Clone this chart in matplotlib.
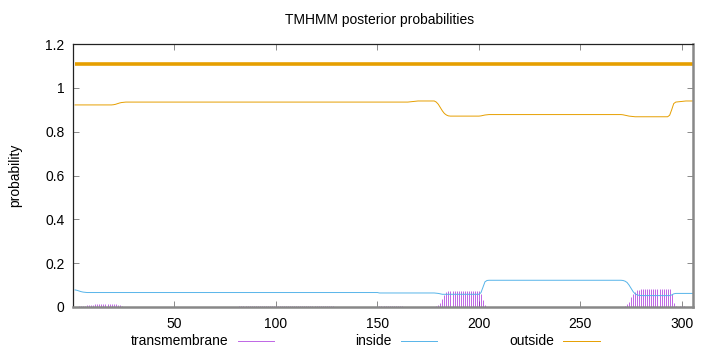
import numpy as np
import matplotlib
matplotlib.use("Agg")
import matplotlib.pyplot as plt
from matplotlib.lines import Line2D
from matplotlib.ticker import FuncFormatter

plt.rcParams['font.family'] = ['Liberation Sans', 'DejaVu Sans']

# posterior probabilities per residue (1..306)
outside = ([0.922] * 19
           + [0.923, 0.925, 0.928, 0.931, 0.933, 0.934, 0.935]
           + [0.935] * 139
           + [0.936, 0.937, 0.938, 0.939, 0.94]
           + [0.94] * 8
           + [0.935, 0.925, 0.91, 0.895, 0.883, 0.876, 0.872, 0.871]
           + [0.871] * 14
           + [0.872, 0.874, 0.876, 0.877, 0.878, 0.878, 0.878]
           + [0.878] * 63
           + [0.877, 0.875, 0.873, 0.871, 0.87, 0.869, 0.868, 0.868]
           + [0.868] * 15
           + [0.875, 0.9, 0.928, 0.935, 0.936]
           + [0.937, 0.938, 0.939, 0.94, 0.94, 0.94, 0.94, 0.94])

inside = ([0.078, 0.076, 0.073, 0.07, 0.068, 0.067]
          + [0.066] * 144
          + [0.064] * 28
          + [0.063, 0.062, 0.06, 0.058, 0.058, 0.058, 0.058, 0.058]
          + [0.058] * 14
          + [0.065, 0.09, 0.115, 0.121, 0.122, 0.122, 0.122]
          + [0.122] * 63
          + [0.121, 0.118, 0.112, 0.1, 0.085, 0.07, 0.06, 0.055, 0.053, 0.052]
          + [0.052] * 14
          + [0.055, 0.06, 0.062]
          + [0.062] * 9)

transmembrane = ([0.0, 0.0]
                 + [0.003, 0.004, 0.005, 0.006, 0.008, 0.009, 0.01, 0.011, 0.012]
                 + [0.013] * 10
                 + [0.01, 0.007, 0.004, 0.002]
                 + [0.001] * 56
                 + [0.003] * 47
                 + [0.001] * 22
                 + [0.004] * 12
                 + [0.001] * 16
                 + [0.005, 0.01, 0.02, 0.035, 0.055, 0.068, 0.072]
                 + [0.073] * 15
                 + [0.06, 0.03, 0.01]
                 + [0.0] * 68
                 + [0.005, 0.012, 0.025, 0.045, 0.06, 0.07, 0.076, 0.079, 0.08]
                 + [0.081] * 14
                 + [0.06, 0.02, 0.005]
                 + [0.002, 0.004, 0.003, 0.004, 0.002, 0.001, 0.0, 0.0, 0.0])

# predicted topology: (label, start, end)
topology = [("outside", 1, 306)]
topo_level = {"inside": 1.09, "outside": 1.11, "transmembrane": 1.10}

seq_len = len(outside)
residues = np.arange(1, seq_len + 1)

c_tm = '#9400d3'
c_in = '#56b4e9'
c_out = '#e69f00'

fig = plt.figure(figsize=(7.2, 3.52), dpi=100)
ax = fig.add_axes([73 / 720, 1 - 307 / 352, 620 / 720, 263 / 352])

ax.vlines(residues, 0, transmembrane, color=c_tm, lw=0.7, alpha=0.6)
ax.plot(residues, inside, color=c_in, lw=0.7)
ax.plot(residues, outside, color=c_out, lw=0.7)
for name, start, end in topology:
    col = {"inside": c_in, "outside": c_out, "transmembrane": c_tm}[name]
    ax.plot([start, end], [topo_level[name]] * 2, color=col, lw=2.6,
            solid_capstyle='butt')

ax.set_xlim(0, seq_len - 0.5)
ax.set_ylim(0, 1.2)
ax.set_xticks([50, 100, 150, 200, 250, 300])
ax.set_yticks([0, 0.2, 0.4, 0.6, 0.8, 1.0, 1.2])
ax.yaxis.set_major_formatter(FuncFormatter(lambda v, p: '%g' % round(v, 2)))
ax.tick_params(direction='in', length=4, width=0.6, color='#777777',
               top=True, right=True, labelsize=10, pad=7)
ax.tick_params(axis='y', pad=6)

for side in ['top', 'left']:
    ax.spines[side].set_color('#222222')
    ax.spines[side].set_linewidth(0.9)
for side in ['bottom', 'right']:
    ax.spines[side].set_color('#888888')
    ax.spines[side].set_linewidth(1.8)

fig.text(380 / 720, 1 - 20 / 352, 'TMHMM posterior probabilities',
         ha='center', va='center', fontsize=10)
fig.text(15 / 720, 1 - 175 / 352, 'probability', rotation=90,
         ha='center', va='center', fontsize=10)

# key below the plot
key = [("transmembrane", c_tm, 228, 238, 274),
       ("inside", c_in, 392, 401, 437),
       ("outside", c_out, 554, 563, 600)]
ky = 1 - 341 / 352
for label, col, tx, x0, x1 in key:
    fig.text(tx / 720, ky, label, ha='right', va='center', fontsize=10)
    fig.add_artist(Line2D([x0 / 720, x1 / 720], [ky, ky], color=col,
                          lw=0.7, alpha=0.6 if col == c_tm else 1.0,
                          transform=fig.transFigure))

fig.savefig('out.png', dpi=100)
